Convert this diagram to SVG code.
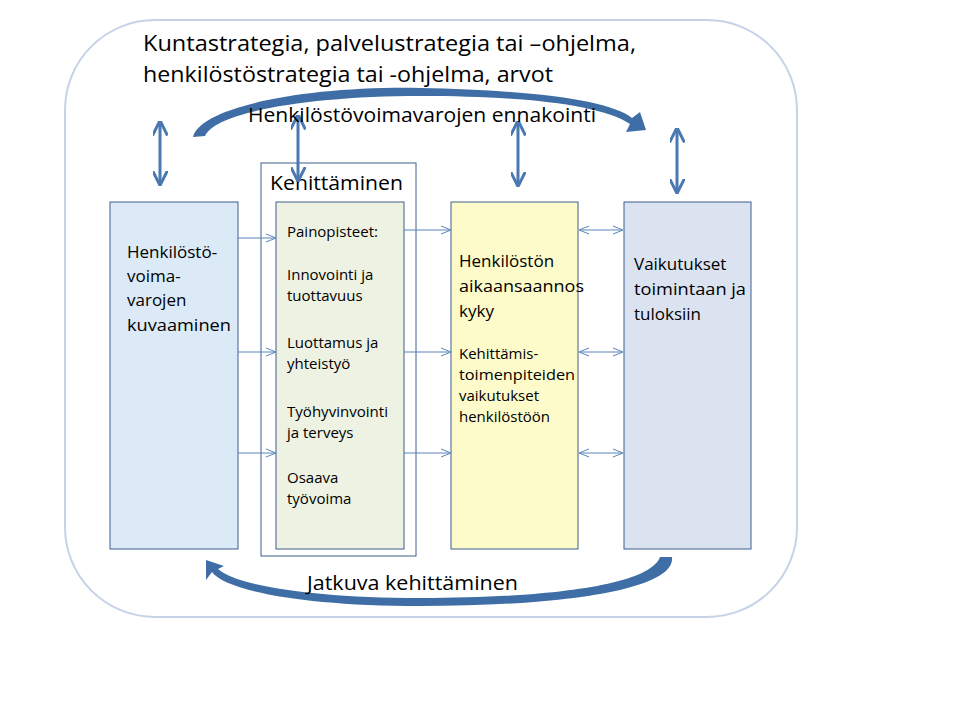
<svg xmlns="http://www.w3.org/2000/svg" width="959" height="719" viewBox="0 0 959 719">
<style>
text{font-family:"Open Sans","Liberation Sans",sans-serif;fill:#000}
.big{font-size:22.5px}.mid{font-size:20px}.sm{font-size:17px}.xs{font-size:15px}
.box{stroke:#3d5f8c;stroke-width:1}
.va{stroke:#4a78b0;stroke-width:3;fill:none}
.ha{stroke:#5b86ba;stroke-width:1;fill:none}
.curve{fill:#3f6ea6}
</style>
<defs>
<marker id="h" viewBox="0 0 10 10" refX="9" refY="5" markerWidth="5" markerHeight="5" orient="auto-start-reverse"><path d="M0,0L10,5L0,10" fill="none" stroke="#4a78b0" stroke-width="2"/></marker>
<marker id="s" viewBox="0 0 10 10" refX="9" refY="5" markerWidth="10" markerHeight="10" orient="auto-start-reverse"><path d="M0,1L10,5L0,9" fill="none" stroke="#5b86ba" stroke-width="1"/></marker>
</defs>
<rect x="0" y="0" width="959" height="719" fill="#fff"/>
<rect id="frame" x="65" y="20" width="732" height="597" rx="90" fill="#fff" stroke="#c5d2e8" stroke-width="2"/>
<text class="big" x="143" y="51" textLength="493" lengthAdjust="spacingAndGlyphs">Kuntastrategia, palvelustrategia tai –ohjelma,</text>
<text class="big" x="143" y="82" textLength="410" lengthAdjust="spacingAndGlyphs">henkilöstöstrategia tai -ohjelma, arvot</text>
<g id="kehittaminen"><rect x="261" y="163" width="155" height="393" fill="#fff" class="box"/><text class="mid" x="270" y="190" textLength="133" lengthAdjust="spacingAndGlyphs">Kehittäminen</text></g>
<g id="kuvaaminen"><rect x="110" y="202" width="128" height="347" fill="#dbeaf6" class="box"/>
<text class="sm" x="127" y="258">Henkilöstö-</text><text class="sm" x="127" y="282">voima-</text><text class="sm" x="127" y="306">varojen</text><text class="sm" x="127" y="331" textLength="104" lengthAdjust="spacingAndGlyphs">kuvaaminen</text></g>
<g id="painopisteet"><rect x="276" y="202" width="128" height="347" fill="#eef2e2" class="box"/>
<text class="xs" x="287" y="237">Painopisteet:</text>
<text class="xs" x="287" y="280">Innovointi ja</text><text class="xs" x="287" y="301">tuottavuus</text>
<text class="xs" x="287" y="348">Luottamus ja</text><text class="xs" x="287" y="369">yhteistyö</text>
<text class="xs" x="287" y="417" textLength="101" lengthAdjust="spacingAndGlyphs">Työhyvinvointi</text><text class="xs" x="287" y="438">ja terveys</text>
<text class="xs" x="287" y="483">Osaava</text><text class="xs" x="287" y="504">työvoima</text></g>
<g id="aikaansaannos"><rect x="451" y="202" width="127" height="347" fill="#fdfbc9" class="box"/>
<text class="sm" x="459" y="267">Henkilöstön</text><text class="sm" x="459" y="292" textLength="125" lengthAdjust="spacingAndGlyphs">aikaansaannos</text><text class="sm" x="459" y="317">kyky</text>
<text class="xs" x="459" y="359">Kehittämis-</text><text class="xs" x="459" y="380" textLength="116" lengthAdjust="spacingAndGlyphs">toimenpiteiden</text><text class="xs" x="459" y="401">vaikutukset</text><text class="xs" x="459" y="422">henkilöstöön</text></g>
<g id="vaikutukset"><rect x="624" y="202" width="127" height="347" fill="#dbe3f1" class="box"/>
<text class="sm" x="634" y="270">Vaikutukset</text><text class="sm" x="634" y="295" textLength="112" lengthAdjust="spacingAndGlyphs">toimintaan ja</text><text class="sm" x="634" y="320">tuloksiin</text></g>
<g id="connectors">
<path class="curve" d="M193,137 C200,108 300,86 420,88 C530,90 610,100 632,118 L640,112 L646,130 L626,132 L630,124 C600,104 520,96 420,96 C310,96 215,112 205,136 Z"/>
<path class="curve" d="M672,557 C676,590 560,606 420,606 C300,606 225,590 212,572 L206,580 L206,560 L224,566 L218,569 C235,585 310,598 420,598 C550,598 650,585 660,557 Z"/>
<line class="va" x1="160" y1="122" x2="160" y2="184" marker-start="url(#h)" marker-end="url(#h)"/>
<line class="va" x1="298" y1="116" x2="298" y2="180" marker-start="url(#h)" marker-end="url(#h)"/>
<line class="va" x1="518" y1="122" x2="518" y2="185" marker-start="url(#h)" marker-end="url(#h)"/>
<line class="va" x1="677" y1="129" x2="677" y2="192" marker-start="url(#h)" marker-end="url(#h)"/>
<line class="ha" x1="238" y1="238" x2="275" y2="238" marker-end="url(#s)"/>
<line class="ha" x1="238" y1="352" x2="275" y2="352" marker-end="url(#s)"/>
<line class="ha" x1="238" y1="453" x2="275" y2="453" marker-end="url(#s)"/>
<line class="ha" x1="404" y1="230" x2="450" y2="230" marker-end="url(#s)"/>
<line class="ha" x1="404" y1="352" x2="450" y2="352" marker-end="url(#s)"/>
<line class="ha" x1="404" y1="453" x2="450" y2="453" marker-end="url(#s)"/>
<line class="ha" x1="580" y1="230" x2="622" y2="230" marker-start="url(#s)" marker-end="url(#s)"/>
<line class="ha" x1="580" y1="352" x2="622" y2="352" marker-start="url(#s)" marker-end="url(#s)"/>
<line class="ha" x1="580" y1="453" x2="622" y2="453" marker-start="url(#s)" marker-end="url(#s)"/>
</g>
<text class="mid" x="248" y="122" textLength="348" lengthAdjust="spacingAndGlyphs">Henkilöstövoimavarojen ennakointi</text>
<text class="mid" x="307" y="590" textLength="211" lengthAdjust="spacingAndGlyphs">Jatkuva kehittäminen</text>
</svg>
